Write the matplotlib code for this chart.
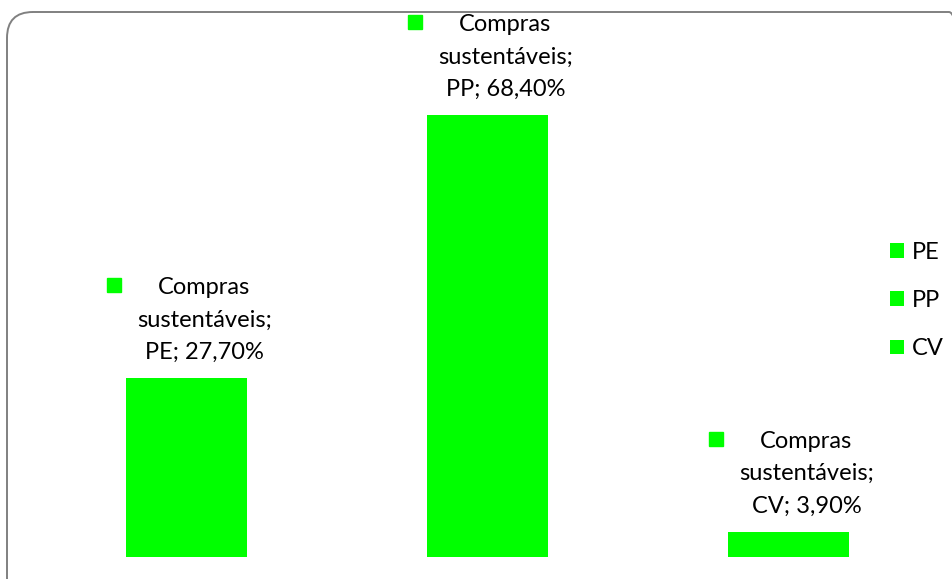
import matplotlib
matplotlib.use("Agg")
import matplotlib.pyplot as plt
from matplotlib.patches import FancyBboxPatch
from matplotlib.transforms import offset_copy, IdentityTransform

categories = ["PE", "PP", "CV"]
values = [27.7, 68.4, 3.9]
series_name = "Compras sustentáveis"
value_labels = ["27,70%", "68,40%", "3,90%"]

GREEN = "#00FF00"
W, H = 953, 579
DPI = 100
plt.rcParams['font.family'] = ['Lato', 'DejaVu Sans']

fig = plt.figure(figsize=(W / DPI, H / DPI), dpi=DPI)

# rounded chart border (pixel coordinates, origin bottom-left)
border = FancyBboxPatch((7, -25), 975 - 7, (H - 12) + 25,
                        boxstyle="round,pad=0,rounding_size=26",
                        transform=IdentityTransform(), facecolor="none",
                        edgecolor="#808080", linewidth=1.4, clip_on=False)
fig.patches.append(border)

# axes: left 36px, right 939px, bottom at 557px, top at 40px
ax = fig.add_axes([36 / W, 1 - 557 / H, (939 - 36) / W, (557 - 40) / H])
ax.set_xlim(-0.5, 2.5)
ax.set_ylim(0, 80)
ax.axis("off")

x = list(range(len(categories)))
bars = ax.bar(x, values, width=0.4, color=GREEN)

FS = 17
mk_tr = offset_copy(ax.transData, fig=fig, x=-72.5, y=92.5, units='dots')
for i, (cat, v, lab) in enumerate(zip(categories, values, value_labels)):
    ax.plot([i], [v], marker='s', markersize=10, color=GREEN,
            linestyle='none', transform=mk_tr, clip_on=False)
    ax.annotate(f"Compras\nsustentáveis;\n{cat}; {lab}", xy=(i, v),
                xytext=(18 * 0.72, 58 * 0.72), textcoords='offset points',
                ha='center', va='center', multialignment='center',
                fontsize=FS, color='#000000', linespacing=1.66,
                annotation_clip=False)

leg = ax.legend(bars, categories, loc='upper left',
                bbox_to_anchor=(890 / W, 1 - 242 / H), bbox_transform=fig.transFigure,
                frameon=False, fontsize=FS, handlelength=0.59, handleheight=0.59,
                handletextpad=0.34, labelspacing=1.15, borderpad=0,
                borderaxespad=0)

fig.savefig("out.png", dpi=DPI)
